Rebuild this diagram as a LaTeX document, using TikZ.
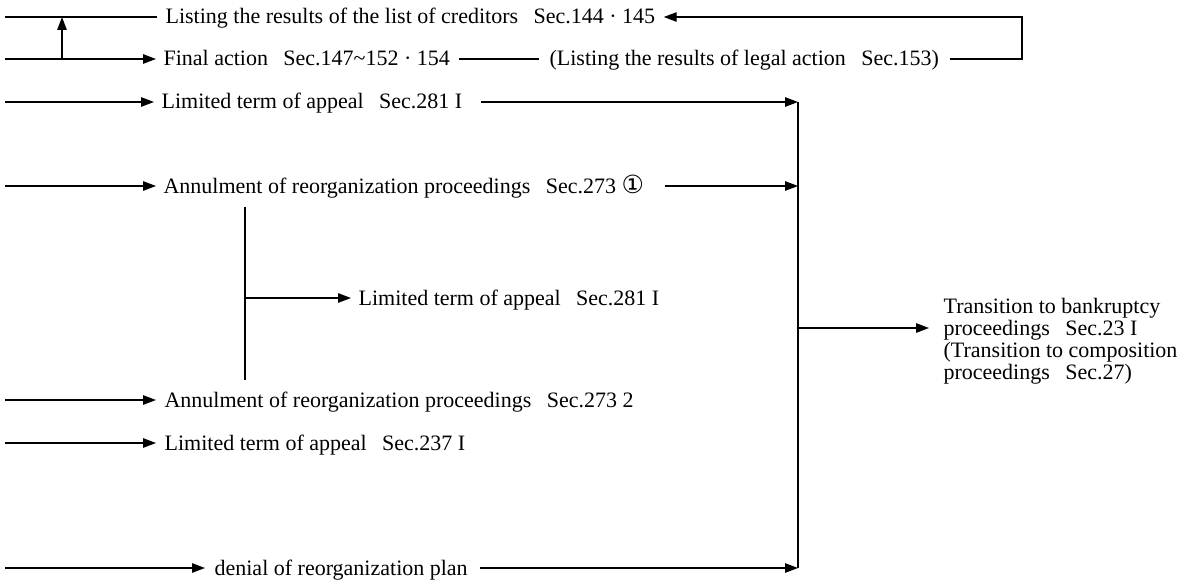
\documentclass[tikz,border=0pt]{standalone}
\usepackage{fontspec}
\setmainfont{Liberation Serif}
\newfontfamily\symfont{DejaVu Sans}
\usetikzlibrary{arrows.meta}
\newcommand{\gap}{\hspace{0.7em}}
\begin{document}
\begin{tikzpicture}[x=1pt,y=-1pt,line width=1.2pt,
  arr/.style={-{Triangle[length=13pt,width=9.5pt]}},
  lbl/.style={anchor=west,inner sep=0pt,text height=15pt,text depth=1pt,
    font=\fontsize{22pt}{22pt}\selectfont},
  blk/.style={anchor=west,inner sep=0pt,align=left,
    font=\fontsize{22pt}{22pt}\selectfont}]
\useasboundingbox (0,0) rectangle (1185,583);

% labels
\node[lbl] (t1)  at (165,17)  {Listing the results of the list of creditors\gap Sec.144 · 145};
\node[lbl] (t2)  at (163,59)  {Final action\gap Sec.147\textasciitilde 152 · 154};
\node[lbl] (t2b) at (549,59)  {(Listing the results of legal action\gap Sec.153)};
\node[lbl] (t3)  at (161,102) {Limited term of appeal\gap Sec.281 I};
\node[lbl] (t4)  at (163,186) {Annulment of reorganization proceedings\gap Sec.273 {\symfont\fontsize{25pt}{22pt}\selectfont ①}};
\node[lbl] (t4b) at (358,298) {Limited term of appeal\gap Sec.281 I};
\node[lbl] (t5)  at (164,400) {Annulment of reorganization proceedings\gap Sec.273 2};
\node[lbl] (t6)  at (164,443) {Limited term of appeal\gap Sec.237 I};
\node[lbl] (t7)  at (214,568) {denial of reorganization plan};
\node[blk] (tr)  at (943,341) {Transition to bankruptcy\\proceedings\gap Sec.23 I\\(Transition to composition\\proceedings\gap Sec.27)};

% free ends and junctions
\coordinate (a1) at (5,17);
\coordinate (a2) at (5,59);
\coordinate (a3) at (5,102);
\coordinate (a4) at (5,186);
\coordinate (a5) at (5,400);
\coordinate (a6) at (5,443);
\coordinate (a7) at (5,568);
\coordinate (up) at (62,59);
\coordinate (cr) at (1022,17);
\coordinate (bt) at (798,102);
\coordinate (bm) at (798,328);
\coordinate (bb) at (798,568);
\coordinate (vt) at (245,207);
\coordinate (vm) at (245,298);
\coordinate (vb) at (245,380);

% top loop
\draw[shorten >=8pt] (a1) -- (t1.west);
\draw[arr,shorten >=7pt] (a2) -- (t2.west);
\draw[arr] (up) -- (up |- a1);
\draw[shorten <=8pt,shorten >=10pt] (t2.east) -- (t2b.west);
\draw[arr,shorten <=10pt,shorten >=8pt] (t2b.east) -| (cr) -- (t1.east);

% inputs
\draw[arr,shorten >=7pt] (a3) -- (t3.west);
\draw[arr,shorten >=7pt] (a4) -- (t4.west);
\draw[arr,shorten >=8pt] (a5) -- (t5.west);
\draw[arr,shorten >=8pt] (a6) -- (t6.west);
\draw[arr,shorten >=9pt] (a7) -- (t7.west);

% side branch
\draw (vt) -- (vb);
\draw[arr,shorten >=7pt] (vm) -- (t4b.west);

% collecting bus
\draw[arr,shorten <=18pt] (t3.east) -- (bt);
\draw[arr,shorten <=20pt] (t4.east) -- (t4.east -| bt);
\draw[arr,shorten <=12pt] (t7.east) -- (bb);
\draw (bt) -- (bb);
\draw[arr,shorten >=14pt] (bm) -- (bm -| tr.west);
\end{tikzpicture}
\end{document}
